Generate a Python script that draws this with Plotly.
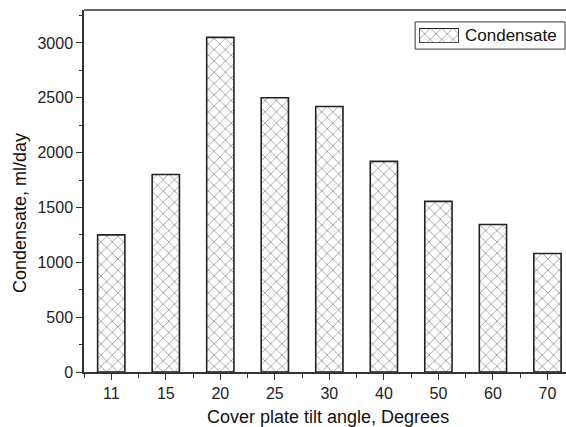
import plotly.graph_objects as go

# Tilt angle categories and measured condensate yield
angles = ["11", "15", "20", "25", "30", "40", "50", "60", "70"]
condensate = [1250, 1800, 3050, 2500, 2420, 1920, 1555, 1345, 1080]
series_name = "Condensate"
x_title = "Cover plate tilt angle, Degrees"
y_title = "Condensate, ml/day"

positions = list(range(len(angles)))
minor_positions = [p + 0.5 for p in positions[:-1]] + [-0.5]

hatch = dict(shape="x", fgcolor="#555555", bgcolor="white",
             size=8, solidity=0.12, fgopacity=1)
outline = dict(color="#222222", width=1.6)

fig = go.Figure()
fig.add_trace(go.Bar(
    x=positions, y=condensate, width=0.5, name=series_name,
    marker=dict(color="white", line=outline, pattern=hatch),
    showlegend=False,
))

# Wide hatched swatch for the legend, drawn on its own small axes
fig.add_trace(go.Scatter(
    x=[0, 1, 1, 0, 0], y=[0, 0, 1, 1, 0], xaxis="x2", yaxis="y2",
    mode="lines", fill="toself", fillcolor="white", fillpattern=hatch,
    line=outline, showlegend=False, hoverinfo="skip",
))

font_family = "Liberation Sans, Arial, sans-serif"
axis_color = "#333333"
tick_font = dict(family=font_family, size=16, color="#222222")

fig.update_layout(
    width=566,
    height=427,
    margin=dict(l=84, r=0, t=10, b=55),
    plot_bgcolor="white",
    paper_bgcolor="white",
    font=dict(family=font_family, size=16, color="#222222"),
    showlegend=False,
    xaxis=dict(
        range=[-0.5, 8.34],
        tickmode="array",
        tickvals=positions,
        ticktext=angles,
        tickfont=tick_font,
        ticks="outside",
        ticklen=6,
        tickwidth=1,
        tickcolor=axis_color,
        minor=dict(tickmode="array", tickvals=minor_positions,
                   ticks="outside", ticklen=4, tickwidth=1, tickcolor=axis_color),
        showline=True,
        linecolor=axis_color,
        linewidth=1.5,
        showgrid=False,
        zeroline=False,
    ),
    yaxis=dict(
        range=[0, 3300],
        dtick=500,
        tick0=0,
        tickfont=tick_font,
        ticks="outside",
        ticklen=6,
        tickwidth=1,
        tickcolor=axis_color,
        minor=dict(dtick=250, ticks="outside", ticklen=3, tickwidth=1, tickcolor=axis_color),
        showline=True,
        linecolor=axis_color,
        linewidth=1.5,
        showgrid=False,
        zeroline=False,
    ),
    xaxis2=dict(domain=[0.695, 0.778], range=[0, 1], anchor="y2",
                visible=False, fixedrange=True),
    yaxis2=dict(domain=[0.909, 0.950], range=[0, 1], anchor="x2",
                visible=False, fixedrange=True),
)

# Upper frame line across the plot area
fig.add_shape(type="line", xref="paper", yref="paper", x0=0, x1=1, y0=1, y1=1,
              line=dict(color=axis_color, width=1.5))

# Legend frame and label
fig.add_shape(type="rect", xref="paper", yref="paper",
              x0=0.687, x1=0.998, y0=0.892, y1=0.967,
              line=dict(color=axis_color, width=1), fillcolor="white", layer="below")
fig.add_annotation(xref="paper", yref="paper", x=0.786, y=0.9295,
                   xanchor="left", yanchor="middle", showarrow=False,
                   text=series_name, font=dict(size=17, color="#111111"))

# Axis titles
fig.add_annotation(xref="paper", yref="paper", x=0.506, y=-0.124,
                   xanchor="center", yanchor="middle", showarrow=False,
                   text=x_title, font=dict(size=18, color="#111111"))
fig.add_annotation(xref="paper", yref="paper", x=-0.133, y=0.439,
                   xanchor="center", yanchor="middle", showarrow=False, textangle=-90,
                   text=y_title, font=dict(size=18, color="#111111"))

fig.write_html("out.html")
